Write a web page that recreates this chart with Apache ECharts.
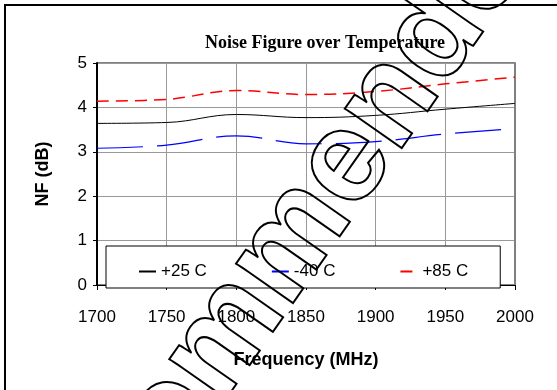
<!DOCTYPE html>
<html><head><meta charset="utf-8">
<script src="https://cdn.jsdelivr.net/npm/echarts@6/dist/echarts.min.js"></script>
<style>html,body{margin:0;padding:0;background:#fff}#c{width:557px;height:390px}</style>
</head><body><div id="c"></div>
<script>
var categories = [1700, 1750, 1800, 1850, 1900, 1950, 2000];
var xTicks = [1700, 1750, 1800, 1850, 1900, 1950, 2000];
var yTicks = [0, 1, 2, 3, 4, 5];
var nf25 = [3.64, 3.66, 3.84, 3.77, 3.82, 3.96, 4.09];
var nfM40 = [3.08, 3.15, 3.36, 3.18, 3.23, 3.40, 3.52];
var nf85 = [4.14, 4.18, 4.38, 4.29, 4.36, 4.53, 4.68];
var seriesNames = ['+25 C', '-40 C', '+85 C'];

function pairs(arr){ return categories.map(function(x,i){ return [x, arr[i]]; }); }
var chart = echarts.init(document.getElementById('c'), null, {renderer:'canvas'});
var font = 'Liberation Sans, Arial, sans-serif';
chart.setOption({
  animation:false,
  backgroundColor:'#fff',
  title:{text:'Noise Figure over Temperature', left:320, top:29, textAlign:'center',
    textStyle:{fontFamily:'Liberation Serif, Times New Roman, serif', fontWeight:'bold', fontSize:18, color:'#000'}},
  grid:{left:97, right:42, top:63, bottom:105, show:true, borderColor:'#000', borderWidth:1},
  legend:{left:106, top:246, width:394, height:39, padding:[17,32,8,32], itemGap:64, itemWidth:17, itemHeight:14,
    backgroundColor:'#fff', borderColor:'#000', borderWidth:1, borderRadius:0,
    itemStyle:{opacity:0},
    textStyle:{fontFamily:font, fontSize:17, color:'#000', padding:[0,0,0,0]}, data:seriesNames},
  xAxis:{type:'value', min:1700, max:2000, interval:50,
    name:'Frequency (MHz)', nameLocation:'middle', nameGap:66,
    nameTextStyle:{fontFamily:font, fontWeight:'bold', fontSize:18, color:'#000'},
    axisLine:{lineStyle:{color:'#000', width:1}},
    axisTick:{show:true, length:5, inside:false, lineStyle:{color:'#000'}},
    axisLabel:{fontFamily:font, fontSize:17, color:'#000', margin:24, formatter:function(v){return String(v);}},
    splitLine:{show:true, lineStyle:{color:'#999', width:1}}},
  yAxis:[{type:'value', min:0, max:5, interval:1,
    name:'NF (dB)', nameLocation:'middle', nameGap:45,
    nameTextStyle:{fontFamily:font, fontWeight:'bold', fontSize:18, color:'#000'},
    axisLine:{show:true, lineStyle:{color:'#000', width:2}},
    axisTick:{show:true, length:4, lineStyle:{color:'#000'}},
    axisLabel:{fontFamily:font, fontSize:17, color:'#000', margin:10},
    splitLine:{show:true, lineStyle:{color:'#999', width:1}}},
   {type:'value', min:0, max:5, interval:1, position:'right',
    axisLine:{show:true, lineStyle:{color:'#808080', width:2}},
    axisTick:{show:false}, axisLabel:{show:false}, splitLine:{show:false}}],
  series:[
    {name:seriesNames[0], type:'line', data:pairs(nf25), smooth:0.4, symbol:'none', z:3,
      lineStyle:{color:'#000', width:1, type:'solid'}, itemStyle:{color:'#000'}},
    {name:seriesNames[1], type:'line', data:pairs(nfM40), smooth:0.4, symbol:'none', z:3,
      lineStyle:{color:'#0000ff', width:1.2, type:[46,14]}, itemStyle:{color:'#0000ff'}},
    {name:seriesNames[2], type:'line', data:pairs(nf85), smooth:0.4, symbol:'none', z:3,
      lineStyle:{color:'#ff0000', width:1.5, type:[12,7]}, itemStyle:{color:'#ff0000'}}
  ],
  graphic:[
    {type:'rect', shape:{x:5, y:5, width:700, height:500}, style:{fill:'none', stroke:'#000', lineWidth:2}, z:100},
    {type:'text', x:277, y:263, rotation:55*Math.PI/180, z:100,
      style:{text:'Recommended', fontSize:131, fontWeight:'bold', fontFamily:'Liberation Sans', fill:'none', stroke:'#000', lineWidth:2, align:'center', verticalAlign:'middle'}}
  ]
});
</script></body></html>
